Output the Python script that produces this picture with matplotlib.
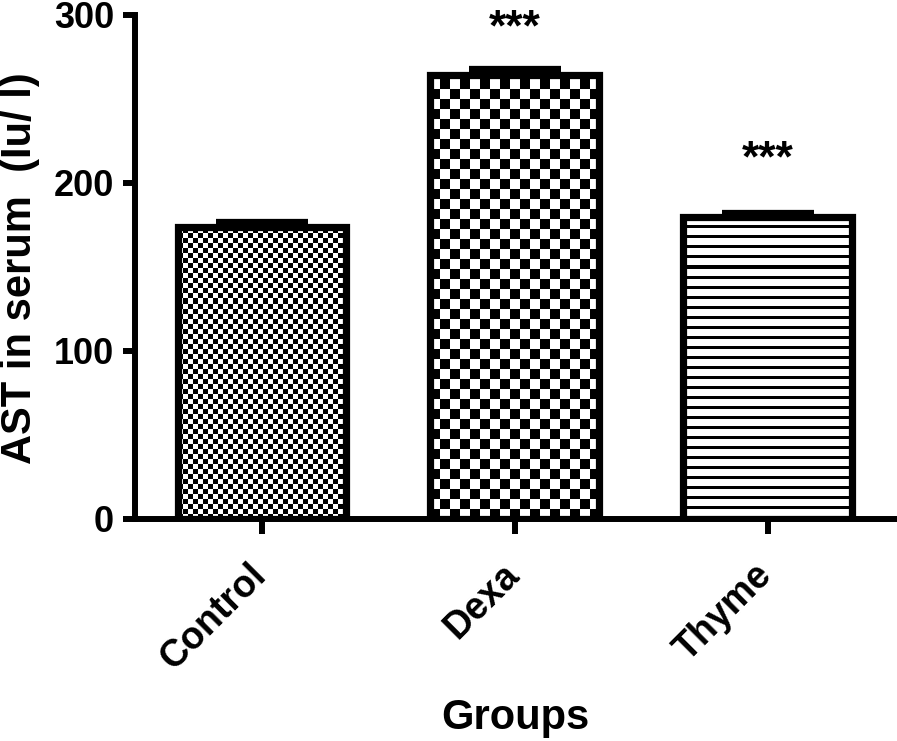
import numpy as np
import matplotlib.pyplot as plt
import matplotlib.transforms as mtransforms

plt.rcParams['font.family'] = ['Liberation Sans', 'DejaVu Sans']
plt.rcParams['font.weight'] = 'bold'

# data
groups = ['Control', 'Dexa', 'Thyme']
means = [174, 264, 180]
errors = [2.5, 4, 2]
stars = ['', '***', '***']
star_y = [0, 285, 207]
yticks = [0, 100, 200, 300]
fills = ['check5', 'check10', 'stripes']

W, H = 897, 741
fig = plt.figure(figsize=(W / 100, H / 100), dpi=100)
ax_px = [135, 15, 762, 504]  # left, top, width, height in pixels
ax = fig.add_axes([ax_px[0] / W, 1 - (ax_px[1] + ax_px[3]) / H, ax_px[2] / W, ax_px[3] / H])

x = np.arange(len(groups))
width = 0.668
xlim = (-0.502, 2.51)
ylim = (0, 300)
px_x = ax_px[2] / (xlim[1] - xlim[0])   # pixels per x unit
px_y = ax_px[3] / (ylim[1] - ylim[0])   # pixels per y unit

bars = ax.bar(x, means, width, facecolor='none', edgecolor='black',
              linewidth=5.2, joinstyle='miter', zorder=3)

# fill patterns, clipped to each bar
for bar, kind in zip(bars, fills):
    x0 = bar.get_x()
    w_px = bar.get_width() * px_x
    h_px = bar.get_height() * px_y
    if kind == 'stripes':
        n = int(np.ceil(h_px)) + 1
        img = (np.arange(n) % 10 >= 3).astype(float)[:, None]
        ext = [x0, x0 + bar.get_width(), 0, n / px_y]
    else:
        c = 5 if kind == 'check5' else 10
        nr = int(np.ceil(h_px / c)) + 1
        nc = int(np.ceil(w_px / c)) + 1
        ii, jj = np.indices((nr, nc))
        img = ((ii + jj) % 2).astype(float)
        ext = [x0, x0 + nc * c / px_x, 0, nr * c / px_y]
    im = ax.imshow(img, cmap='gray', vmin=0, vmax=1, origin='lower',
                   extent=ext, aspect='auto', interpolation='nearest', zorder=2)
    im.set_clip_path(bar)

ax.errorbar(x, means, yerr=[np.zeros(len(x)), errors], fmt='none', ecolor='black',
            elinewidth=3.8, capsize=33, capthick=4.5, zorder=4)

for xi, s, sy in zip(x, stars, star_y):
    if s:
        ax.text(xi, sy, s, ha='center', va='baseline', fontsize=32,
                fontweight='bold', clip_on=False)

ax.set_xlim(xlim)
ax.set_ylim(ylim)
ax.set_yticks(yticks)
ax.set_xticks(x)
ax.set_xticklabels([])

# rotated group labels, ends placed just under the ticks
lab_tr = ax.get_xaxis_transform() + mtransforms.ScaledTranslation(-14 / 100, -37.5 / 100, fig.dpi_scale_trans)
for xi, g in zip(x, groups):
    ax.text(xi, 0, g, transform=lab_tr, rotation=45, ha='right', va='top',
            rotation_mode='anchor', fontsize=27, fontweight='bold', clip_on=False)

for side in ['top', 'right']:
    ax.spines[side].set_visible(False)
for side in ['left', 'bottom']:
    ax.spines[side].set_linewidth(4.3)
ax.tick_params(axis='y', width=4.3, length=9, labelsize=26, pad=6)
ax.tick_params(axis='x', width=4.3, length=11)

ax.set_ylabel('AST in serum  (Iu/ l)', fontsize=30, fontweight='bold',
              ha='center', va='center')
ax.yaxis.set_label_coords((20 - 135) / 762, (519 - 268) / 504)
ax.set_xlabel('Groups', fontsize=30, fontweight='bold', ha='center', va='center')
ax.xaxis.set_label_coords((515 - 135) / 762, (519 - 718) / 504)

fig.savefig('out.png', dpi=100)
